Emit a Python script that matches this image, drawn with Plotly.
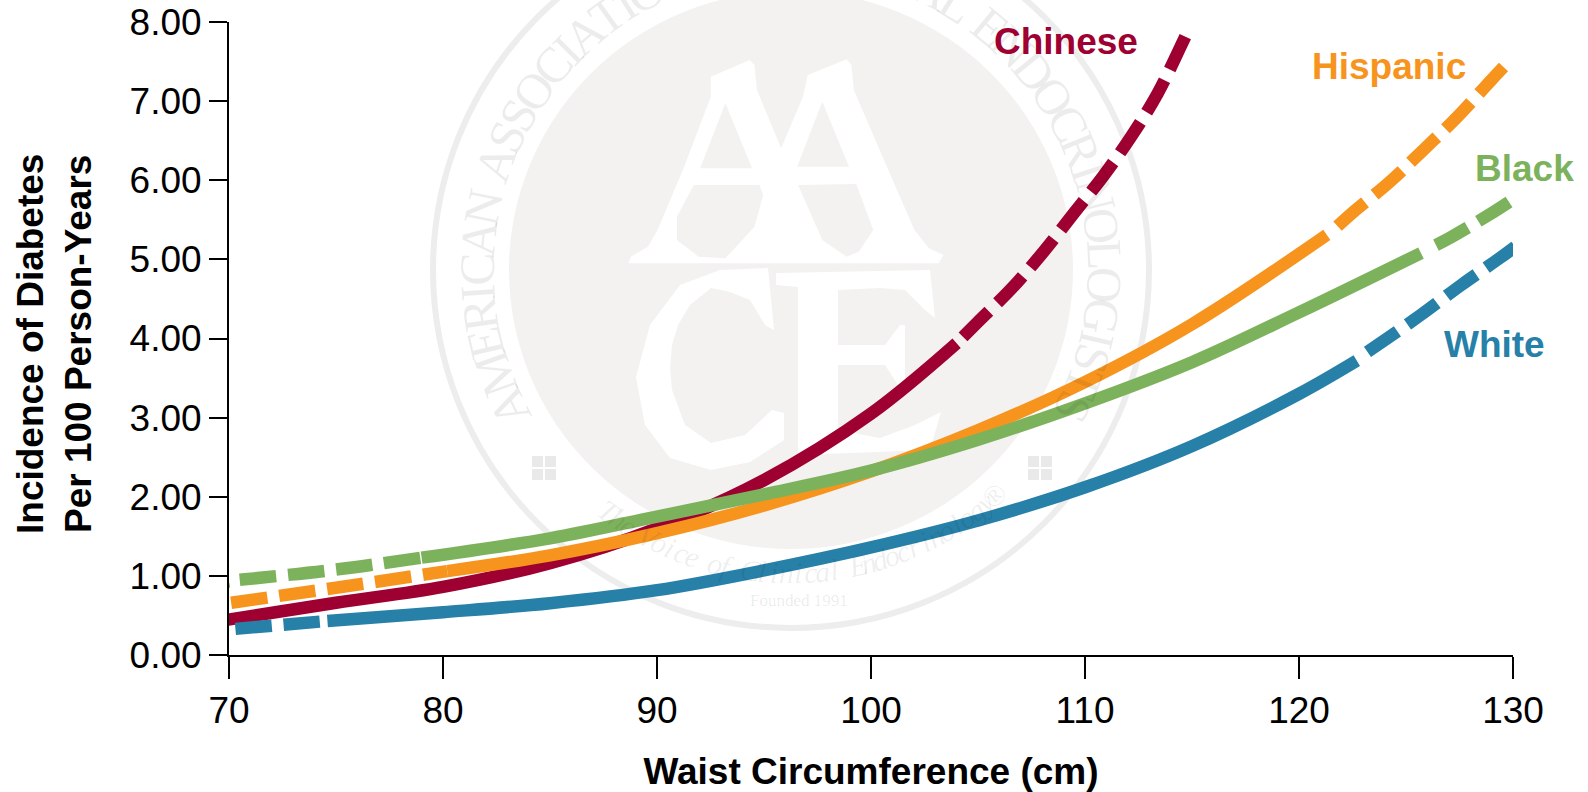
import math
import plotly.graph_objects as go

# ---------- data ----------
x_ticks = [70, 80, 90, 100, 110, 120, 130]
y_ticks = [0, 1, 2, 3, 4, 5, 6, 7, 8]

chinese_solid_x = [69.8, 75, 80, 85, 90, 95, 100, 104.0]
chinese_solid_y = [0.44, 0.66, 0.86, 1.16, 1.60, 2.21, 3.05, 3.94]
chinese_dash_x = [104.3, 105.0, 106.6, 108.1, 109.5, 110.9, 112.2, 113.4, 114.4, 114.8]
chinese_dash_y = [4.02, 4.21, 4.64, 5.11, 5.59, 6.07, 6.57, 7.10, 7.65, 7.88]

hispanic_dash1_x = [70.1, 75, 80.2]
hispanic_dash1_y = [0.66, 0.85, 1.06]
hispanic_solid_x = [80.2, 85, 90, 95, 100, 105, 110, 115, 121.3]
hispanic_solid_y = [1.06, 1.26, 1.54, 1.89, 2.32, 2.84, 3.45, 4.18, 5.31]
hispanic_dash2_x = [121.8, 122.5, 124.2, 125.8, 127.4, 129.0, 129.8]
hispanic_dash2_y = [5.42, 5.59, 5.97, 6.38, 6.80, 7.27, 7.50]

black_tick_x = [69.8, 70.0]
black_tick_y = [0.92, 0.93]
black_dash1_x = [70.5, 75, 79.0]
black_dash1_y = [0.95, 1.08, 1.23]
black_solid_x = [79.0, 85, 90, 95, 100, 105, 110, 115, 120, 125.7]
black_solid_y = [1.23, 1.475, 1.75, 2.03, 2.33, 2.72, 3.18, 3.70, 4.33, 5.08]
black_dash2_x = [126.4, 127.1, 129.1, 129.9]
black_dash2_y = [5.18, 5.28, 5.60, 5.74]

white_dash1_x = [70.3, 72, 74.6]
white_dash1_y = [0.33, 0.37, 0.43]
white_solid_x = [74.6, 80, 85, 90, 95, 100, 105, 110, 115, 120, 122.7]
white_solid_y = [0.43, 0.54, 0.655, 0.82, 1.07, 1.36, 1.70, 2.12, 2.64, 3.30, 3.72]
white_dash2_x = [123.2, 123.9, 125.7, 127.6, 129.4, 130.1]
white_dash2_y = [3.83, 3.96, 4.30, 4.68, 5.02, 5.16]

C_CHINESE = "#9e0031"
C_HISPANIC = "#f7941e"
C_BLACK = "#7db25c"
C_WHITE = "#2780a8"
LW = 12.5
DASH = "36.5px,12px"
FS = 37

# ---------- layout geometry ----------
W, H = 1588, 792
L, R, T, B = 229, 1513, 22, 655


def px(x):
    return (x - L) / (R - L)


def py(y):
    return (B - y) / (B - T)


fig = go.Figure()


def add(xs, ys, color, dashed):
    fig.add_trace(go.Scatter(
        x=xs, y=ys, mode="lines", cliponaxis=False, showlegend=False, hoverinfo="skip",
        line=dict(color=color, width=LW, shape="spline", smoothing=1.0,
                  dash=DASH if dashed else "solid"),
    ))


add(chinese_solid_x, chinese_solid_y, C_CHINESE, False)
add(chinese_dash_x, chinese_dash_y, C_CHINESE, True)
add(hispanic_dash1_x, hispanic_dash1_y, C_HISPANIC, True)
add(hispanic_solid_x, hispanic_solid_y, C_HISPANIC, False)
add(hispanic_dash2_x, hispanic_dash2_y, C_HISPANIC, True)
add(black_tick_x, black_tick_y, C_BLACK, False)
add(black_dash1_x, black_dash1_y, C_BLACK, True)
add(black_solid_x, black_solid_y, C_BLACK, False)
add(black_dash2_x, black_dash2_y, C_BLACK, True)
add(white_dash1_x, white_dash1_y, C_WHITE, True)
add(white_solid_x, white_solid_y, C_WHITE, False)
add(white_dash2_x, white_dash2_y, C_WHITE, True)

# ---------- watermark seal ----------
CX, CY = 791, 270
RING = "#eeeded"
DISC = "#f3f2f1"
SEAL_TXT = "rgba(0,0,0,0.075)"
shapes = []
annots = []


def ellipse(cx, cy, rx, ry, **kw):
    shapes.append(dict(type="circle", xref="paper", yref="paper", layer="below",
                       x0=px(cx - rx), x1=px(cx + rx), y0=py(cy + ry), y1=py(cy - ry), **kw))


def poly(points, fill):
    d = "M " + " L ".join(f"{px(a):.5f},{py(b):.5f}" for a, b in points) + " Z"
    shapes.append(dict(type="path", xref="paper", yref="paper", layer="below", path=d,
                       fillcolor=fill, line=dict(width=0)))


def z2(points):
    """points read in the reference crop of the seal -> page pixels"""
    return [(420 + a / 2.063, b / 3) for a, b in points]


ellipse(CX, CY, 358, 358, line=dict(color=RING, width=6), fillcolor="rgba(0,0,0,0)")
ellipse(CX, CY, 282, 279, line=dict(width=0), fillcolor=DISC)

poly(z2([(600, 230), (680, 180), (690, 195), (695, 270), (745, 445), (790, 290), (800, 225), (880, 178),
         (890, 195), (895, 270), (960, 490), (1020, 690), (1050, 745), (1080, 765), (1070, 790), (430, 790),
         (435, 770), (470, 740), (490, 690), (545, 500), (600, 290)]), "#ffffff")
poly(z2([(630, 310), (685, 505), (578, 505)]), DISC)
poly(z2([(830, 305), (885, 500), (778, 500)]), DISC)
poly(z2([(565, 555), (700, 555), (708, 585), (690, 680), (630, 775), (575, 770), (530, 720), (530, 650)]), DISC)
poly(z2([(780, 555), (900, 552), (935, 690), (905, 755), (880, 770), (830, 720)]), DISC)

poly([(768, 268), (774, 330), (765, 325), (750, 300), (730, 292), (711, 288), (690, 305), (678, 325), (672, 345),
      (670, 368), (672, 390), (685, 425), (711, 443), (745, 435), (772, 410), (784, 413), (784, 440), (750, 462),
      (711, 470), (670, 458), (645, 425), (636, 377), (650, 325), (680, 285), (720, 270)], "#ffffff")
poly([(776, 273), (930, 270), (935, 318), (925, 310), (905, 290), (880, 288), (838, 290), (838, 345), (885, 345),
      (900, 325), (905, 325), (905, 385), (898, 385), (885, 365), (838, 365), (838, 430), (880, 438), (915, 425),
      (941, 412), (930, 450), (798, 455), (798, 287), (776, 285)], "#ffffff")

for sx in (544, 1040):
    for i in range(2):
        for j in range(2):
            shapes.append(dict(type="rect", xref="paper", yref="paper", layer="below",
                               x0=px(sx - 12 + i * 13), x1=px(sx - 1 + i * 13),
                               y0=py(468 - 12 + j * 13 + 11), y1=py(468 - 12 + j * 13),
                               fillcolor="#e9e9e9", line=dict(width=0)))

CAP_W = {"A": .72, "M": .89, "E": .61, "R": .67, "I": .33, "C": .67, "N": .72, "S": .56, "O": .72,
         "T": .61, "F": .56, "L": .61, "D": .72, "G": .72, " ": .3}
seal_top = "AMERICAN ASSOCIATION OF CLINICAL ENDOCRINOLOGISTS"
a0, a1 = -116.0, 116.0
total = sum((CAP_W[seal_top[k]] + CAP_W[seal_top[k + 1]]) / 2 for k in range(len(seal_top) - 1))
pos = 0.0
for i, ch in enumerate(seal_top):
    if i:
        pos += (CAP_W[seal_top[i - 1]] + CAP_W[ch]) / 2
    ang = a0 + (a1 - a0) * pos / total
    r = math.radians(ang)
    if ch != " ":
        annots.append(dict(xref="paper", yref="paper", x=px(CX + 314 * math.sin(r)), y=py(CY - 314 * math.cos(r)),
                           text=ch, textangle=ang, showarrow=False, xanchor="center", yanchor="middle",
                           font=dict(family="Liberation Serif", size=50, color=SEAL_TXT)))

seal_low = "The Voice of Clinical Endocrinology®"
for i, ch in enumerate(seal_low):
    phi = -37 + 79 * i / (len(seal_low) - 1)
    r = math.radians(phi)
    if ch != " ":
        annots.append(dict(xref="paper", yref="paper", x=px(CX + 303 * math.sin(r)), y=py(CY + 303 * math.cos(r)),
                           text=f"<i>{ch}</i>", textangle=-phi, showarrow=False, xanchor="center", yanchor="middle",
                           font=dict(family="Liberation Serif", size=30, color=SEAL_TXT)))
annots.append(dict(xref="paper", yref="paper", x=px(799), y=py(600), text="Founded 1991", showarrow=False,
                   xanchor="center", yanchor="middle",
                   font=dict(family="Liberation Serif", size=17, color="rgba(0,0,0,0.09)")))

# ---------- series labels ----------
for txt, xpx, ypx, col in [("Chinese", 1066, 42, C_CHINESE), ("Hispanic", 1389, 67, C_HISPANIC),
                           ("Black", 1525, 169, C_BLACK), ("White", 1494, 344, C_WHITE)]:
    annots.append(dict(xref="paper", yref="paper", x=px(xpx), y=py(ypx), text=f"<b>{txt}</b>", showarrow=False,
                       xanchor="center", yanchor="middle",
                       font=dict(family="Liberation Sans", size=FS, color=col)))

axis_font = dict(family="Liberation Sans", size=FS, color="#000000")
annots.append(dict(xref="paper", yref="paper", x=px(54), y=py(344), textangle=-90, showarrow=False,
                   xanchor="center", yanchor="middle",
                   text="<b>Incidence of Diabetes<br>Per 100 Person-Years</b>", font=axis_font))

fig.update_layout(
    width=W, height=H, margin=dict(l=L, r=W - R, t=T, b=H - B, pad=0, autoexpand=False),
    paper_bgcolor="#ffffff", plot_bgcolor="rgba(0,0,0,0)", showlegend=False,
    shapes=shapes, annotations=annots,
    xaxis=dict(range=[70, 130], tickvals=x_ticks, ticks="outside", ticklen=22, tickwidth=2, tickcolor="#000",
               showline=True, linewidth=2, linecolor="#000", showgrid=False, zeroline=False, tickfont=axis_font,
               title=dict(text="<b>Waist Circumference (cm)</b>", font=axis_font, standoff=32)),
    yaxis=dict(range=[0, 8], tickvals=y_ticks, tickformat=".2f", ticks="outside", ticklen=18, tickwidth=2,
               tickcolor="#000", showline=True, linewidth=2, linecolor="#000", showgrid=False, zeroline=False,
               tickfont=axis_font),
)

fig.write_html("out.html", config={"displayModeBar": False},
               post_script="document.body.style.margin='0';document.body.style.overflow='hidden';")
